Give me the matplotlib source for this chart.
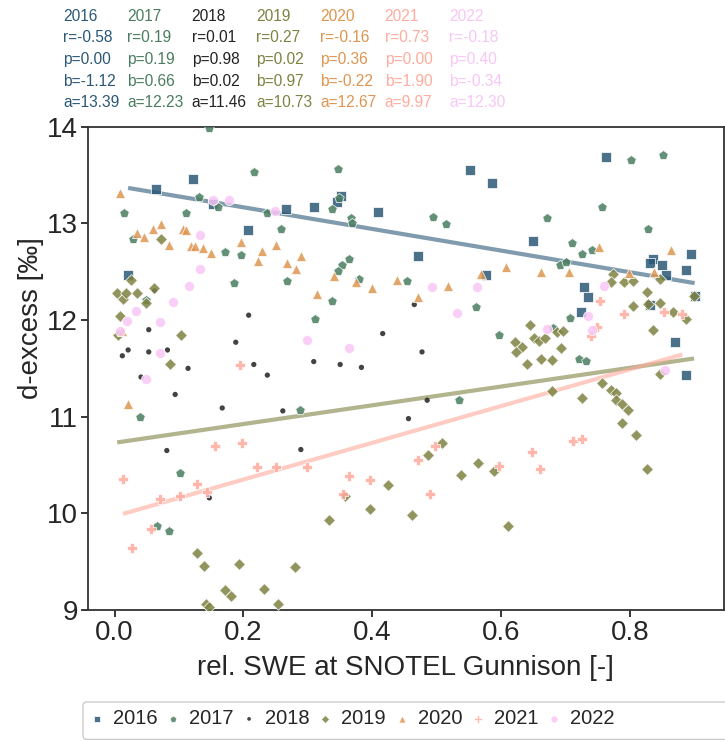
import matplotlib
matplotlib.use("Agg")
import matplotlib.pyplot as plt
from matplotlib import font_manager
from matplotlib.patches import FancyBboxPatch
from matplotlib.transforms import IdentityTransform
import numpy as np


def has_font(name):
    try:
        font_manager.findfont(font_manager.FontProperties(family=name),
                              fallback_to_default=False)
        return True
    except Exception:
        return False


BASE = "Liberation Sans"
NARROW = "Liberation Sans Narrow" if has_font("Liberation Sans Narrow") else BASE
plt.rcParams["font.family"] = [BASE, "DejaVu Sans"]

# ---------------- data ----------------
years = ["2016", "2017", "2018", "2019", "2020", "2021", "2022"]

x_2016 = [0.065, 0.121, 0.152, 0.266, 0.207, 0.021, 0.352, 0.345, 0.310, 0.409,
          0.551, 0.585, 0.470, 0.577, 0.762, 0.649, 0.895, 0.835, 0.830, 0.849,
          0.856, 0.887, 0.830, 0.900, 0.729, 0.735, 0.723, 0.869, 0.887]
y_2016 = [13.36, 13.46, 13.20, 13.15, 12.93, 12.47, 13.28, 13.22, 13.17, 13.12,
          13.55, 13.42, 12.66, 12.47, 13.69, 12.82, 12.68, 12.63, 12.59, 12.57,
          12.47, 12.52, 12.16, 12.25, 12.34, 12.24, 12.08, 11.77, 11.43]

x_2017 = [0.147, 0.216, 0.131, 0.160, 0.236, 0.015, 0.111, 0.258, 0.029, 0.171,
          0.196, 0.186, 0.268, 0.049, 0.347, 0.348, 0.337, 0.367, 0.368, 0.494,
          0.514, 0.363, 0.353, 0.347, 0.380, 0.454, 0.337, 0.311, 0.560, 0.596,
          0.802, 0.851, 0.756, 0.671, 0.828, 0.710, 0.726, 0.740, 0.691, 0.701,
          0.707, 0.681, 0.720, 0.731, 0.288, 0.040, 0.101, 0.066, 0.085, 0.534]
y_2017 = [13.99, 13.53, 13.27, 13.17, 13.11, 13.11, 13.11, 12.94, 12.84, 12.70,
          12.67, 12.38, 12.40, 12.21, 13.56, 13.26, 13.15, 13.06, 13.00, 13.07,
          12.99, 12.63, 12.57, 12.51, 12.42, 12.40, 12.20, 12.01, 12.13, 11.85,
          13.66, 13.71, 13.17, 13.06, 12.94, 12.80, 12.68, 12.72, 12.57, 12.60,
          12.02, 11.92, 11.60, 11.58, 11.07, 11.00, 10.42, 9.87, 9.82, 11.17]

x_2018 = [0.053, 0.021, 0.012, 0.053, 0.082, 0.114, 0.041, 0.062, 0.208, 0.188,
          0.216, 0.237, 0.465, 0.416, 0.477, 0.309, 0.350, 0.383, 0.094, 0.167,
          0.261, 0.081, 0.289, 0.147, 0.485, 0.456]
y_2018 = [11.90, 11.69, 11.63, 11.67, 11.69, 11.50, 11.41, 12.30, 12.05, 11.77,
          11.54, 11.43, 12.16, 11.86, 11.67, 11.57, 11.54, 11.51, 11.23, 11.09,
          11.06, 10.65, 10.66, 10.16, 11.17, 10.98]

x_2019 = [0.072, 0.025, 0.004, 0.013, 0.018, 0.034, 0.061, 0.048, 0.008, 0.005,
          0.103, 0.086, 0.774, 0.770, 0.790, 0.804, 0.846, 0.826, 0.827, 0.847,
          0.804, 0.866, 0.886, 0.899, 0.835, 0.645, 0.651, 0.659, 0.668, 0.622,
          0.632, 0.623, 0.686, 0.696, 0.692, 0.662, 0.679, 0.640, 0.846, 0.128,
          0.138, 0.193, 0.280, 0.171, 0.181, 0.232, 0.142, 0.146, 0.254, 0.357,
          0.508, 0.486, 0.424, 0.538, 0.564, 0.589, 0.332, 0.396, 0.461, 0.611,
          0.679, 0.726, 0.756, 0.770, 0.778, 0.778, 0.787, 0.796, 0.787, 0.809,
          0.826]
y_2019 = [12.84, 12.41, 12.28, 12.22, 12.28, 12.28, 12.33, 12.18, 12.04, 11.84,
          11.84, 11.54, 12.48, 12.39, 12.39, 12.40, 12.42, 12.29, 12.17, 12.18,
          12.15, 12.08, 12.01, 12.25, 11.90, 11.95, 11.81, 11.78, 11.81, 11.77,
          11.72, 11.67, 11.88, 11.89, 11.71, 11.60, 11.59, 11.55, 11.44, 9.59,
          9.46, 9.48, 9.44, 9.21, 9.14, 9.22, 9.06, 9.03, 9.06, 10.18,
          10.73, 10.60, 10.29, 10.40, 10.52, 10.44, 9.93, 10.05, 9.98, 9.87,
          11.27, 11.19, 11.35, 11.28, 11.24, 11.17, 11.13, 11.07, 10.93, 10.81,
          10.46]

x_2020 = [0.008, 0.106, 0.111, 0.072, 0.059, 0.034, 0.046, 0.085, 0.118, 0.124,
          0.137, 0.150, 0.196, 0.229, 0.250, 0.222, 0.268, 0.289, 0.281, 0.012,
          0.569, 0.607, 0.340, 0.374, 0.400, 0.438, 0.518, 0.471, 0.314, 0.752,
          0.863, 0.662, 0.705, 0.798, 0.837, 0.021]
y_2020 = [13.31, 12.94, 12.93, 12.99, 12.94, 12.90, 12.86, 12.78, 12.77, 12.77,
          12.74, 12.69, 12.81, 12.71, 12.78, 12.61, 12.59, 12.66, 12.53, 11.89,
          12.48, 12.55, 12.46, 12.39, 12.33, 12.41, 12.35, 12.24, 12.27, 12.76,
          12.72, 12.50, 12.50, 12.49, 12.50, 11.13]

x_2021 = [0.194, 0.753, 0.790, 0.853, 0.881, 0.749, 0.739, 0.013, 0.156, 0.198,
          0.221, 0.250, 0.299, 0.128, 0.143, 0.101, 0.070, 0.056, 0.027, 0.364,
          0.397, 0.355, 0.470, 0.497, 0.490, 0.596, 0.711, 0.725, 0.647, 0.660]
y_2021 = [11.53, 12.20, 12.06, 12.08, 12.06, 11.93, 11.83, 10.36, 10.70, 10.73,
          10.48, 10.48, 10.48, 10.30, 10.22, 10.18, 10.15, 9.84, 9.64, 10.39,
          10.34, 10.20, 10.55, 10.70, 10.20, 10.49, 10.75, 10.77, 10.63, 10.46]

x_2022 = [0.153, 0.178, 0.249, 0.133, 0.133, 0.116, 0.091, 0.033, 0.020, 0.070,
          0.008, 0.070, 0.049, 0.299, 0.493, 0.563, 0.531, 0.364, 0.759, 0.734,
          0.741, 0.671, 0.854]
y_2022 = [13.24, 13.24, 13.13, 12.88, 12.53, 12.35, 12.19, 12.09, 11.99, 11.98,
          11.89, 11.66, 11.39, 11.79, 12.34, 12.34, 12.07, 11.71, 12.35, 12.04,
          11.90, 11.91, 11.48]

# regression statistics shown in the header
r_vals = [-0.58, 0.19, 0.01, 0.27, -0.16, 0.73, -0.18]
p_vals = [0.00, 0.19, 0.98, 0.02, 0.36, 0.00, 0.40]
b_vals = [-1.12, 0.66, 0.02, 0.97, -0.22, 1.90, -0.34]
a_vals = [13.39, 12.23, 11.46, 10.73, 12.67, 9.97, 12.30]

xs = [x_2016, x_2017, x_2018, x_2019, x_2020, x_2021, x_2022]
ys = [y_2016, y_2017, y_2018, y_2019, y_2020, y_2021, y_2022]

# ---------------- style ----------------
colors = ["#2b5877", "#4a7d60", "#222222", "#7e8241", "#dd9550", "#ffab9e", "#f8c6f6"]
markers = ["s", "p", ".", "D", "^", "P", "o"]
sizes = [48, 52, 58, 36, 52, 54, 52]
TXT = "#262626"

fig = plt.figure(figsize=(7.25, 7.4), dpi=100)
W, H = 725.0, 740.0
ax_l, ax_r, ax_t, ax_b = 88.3, 723.5, 126.7, 610.0
ax = fig.add_axes([ax_l / W, 1 - ax_b / H, (ax_r - ax_l) / W, (ax_b - ax_t) / H])

handles = []
for i, yr in enumerate(years):
    if p_vals[i] < 0.05:
        xx = np.array([min(xs[i]), max(xs[i])])
        ax.plot(xx, a_vals[i] + b_vals[i] * xx, color=colors[i], lw=3.0,
                alpha=0.6, zorder=2, solid_capstyle="butt")
for i, yr in enumerate(years):
    ec = "none" if markers[i] == "." else "white"
    h = ax.scatter(xs[i], ys[i], marker=markers[i], s=sizes[i], c=colors[i],
                   alpha=0.85, edgecolors=ec, linewidths=0.6, zorder=3, label=yr)
    handles.append(h)

ax.set_ylim(9, 14)
ax.set_xticks([0.0, 0.2, 0.4, 0.6, 0.8])
ax.set_yticks([9, 10, 11, 12, 13, 14])
ax.tick_params(axis="both", labelsize=20, length=5, width=1.3, colors=TXT,
               direction="out")
ax.tick_params(axis="x", pad=2)
ax.tick_params(axis="y", pad=2.5)
for sp in ax.spines.values():
    sp.set_color("#333333")
    sp.set_linewidth(1.3)

ax.set_xlabel("rel. SWE at SNOTEL Gunnison [-]", fontsize=20, color=TXT)
ax.set_ylabel("d-excess [‰]", fontsize=20, color=TXT)
ax.xaxis.set_label_coords(0.5, -(655 - ax_b) / (ax_b - ax_t))
ax.yaxis.set_label_coords((44 - ax_l) / (ax_r - ax_l), (ax_b - 318) / (ax_b - ax_t))

# header statistics
hdr_fs = 12.5 if NARROW != BASE else 11.2
col_x = [63, 127.3, 191.7, 256, 320, 384.7, 449]
base_y = [20.7, 42.35, 64.0, 85.6, 107.3]
for i, yr in enumerate(years):
    lines = [yr, f"r={r_vals[i]:.2f}", f"p={p_vals[i]:.2f}",
             f"b={b_vals[i]:.2f}", f"a={a_vals[i]:.2f}"]
    for j, s in enumerate(lines):
        fig.text(col_x[i] / W, 1 - base_y[j] / H, s, color=colors[i],
                 fontsize=hdr_fs, family=[NARROW, BASE, "DejaVu Sans"],
                 ha="left", va="baseline")

# legend
leg_fs = 16 if NARROW != BASE else 14.5
leg_fs_px = leg_fs * 100 / 72
hl = 0.8
htp = 0.4
anchor_x = 96.7 - hl * leg_fs_px / 2
leg = fig.legend(handles, years, ncol=7, loc="center left",
                 bbox_to_anchor=(anchor_x / W, 1 - 718.7 / H),
                 frameon=False, prop={"family": [NARROW, BASE], "size": leg_fs},
                 markerscale=0.7, handlelength=hl, handletextpad=htp,
                 columnspacing=0.75 if NARROW != BASE else 0.37,
                 borderpad=0, borderaxespad=0, labelcolor=TXT, scatterpoints=1)
frame = FancyBboxPatch((83, 740 - 739.4), 700, 739.4 - 702,
                       boxstyle="round,pad=0,rounding_size=4",
                       transform=IdentityTransform(), facecolor="white",
                       edgecolor="#cccccc", linewidth=1.0, zorder=0)
fig.add_artist(frame)

fig.savefig("out.png", dpi=100)
